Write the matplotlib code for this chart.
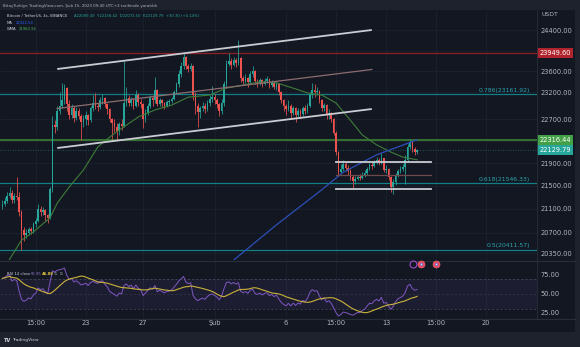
import numpy as np
import pandas as pd
import matplotlib
matplotlib.use('Agg')
import matplotlib.pyplot as plt
from matplotlib.transforms import blended_transform_factory
from matplotlib.patches import Rectangle
from matplotlib.ticker import NullLocator

W, H = 580, 347
BG = '#131722'
OUTER = '#1e222d'
UP = '#26a69a'
DOWN = '#ef5350'
TXT = '#b2b5be'

# BTC/USDT 4h candles (Binance), first bar Jan 17 07:00 UTC+3
first_open = 21150
closes = [
    21180, 21230, 21330, 21380, 21250,                 # Jan 17
    21320, 21300, 21050, 20750, 20650, 20690,          # Jan 18
    20760, 20720, 20850, 20900, 21100, 21050,          # Jan 19
    21080, 20990, 20940, 21450, 22600, 22550,          # Jan 20
    22850, 22950, 23050, 23280, 22980, 22780,          # Jan 21
    22900, 22720, 22850, 22760, 22650, 22700,          # Jan 22
    22780, 22680, 22900, 23000, 22950, 22920,          # Jan 23
    23050, 23100, 22980, 22880, 22700, 22620,          # Jan 24
    22560, 22480, 22610, 22580, 23000, 23100,          # Jan 25
    23000, 23080, 22950, 23150, 23020, 22980,          # Jan 26
    22700, 22820, 22950, 23100, 23050, 23250,          # Jan 27
    22980, 23060, 23000, 22950, 23010, 23030,          # Jan 28
    23080, 23200, 23350, 23550, 23700, 23880,          # Jan 29
    23700, 23640, 23700, 23150, 22950, 22830,          # Jan 30
    22900, 22950, 22880, 23000, 23080, 23120,          # Jan 31
    23050, 22980, 22850, 23000, 23350, 23750,          # Feb 1
    23800, 23720, 23820, 23760, 23850, 23480,          # Feb 2
    23420, 23480, 23400, 23550, 23600, 23420,          # Feb 3
    23380, 23440, 23360, 23420, 23450, 23340,          # Feb 4
    23380, 23300, 23350, 23200, 23050, 22950,          # Feb 5
    22880, 22950, 22820, 22900, 22780, 22850,          # Feb 6
    22800, 22900, 22860, 22950, 23150, 23250,          # Feb 7
    23200, 23220, 23050, 22900, 22960, 22780,          # Feb 8
    22820, 22700, 22450, 22100, 21750, 21800,          # Feb 9
    21880, 21820, 21760, 21650, 21590, 21620,          # Feb 10
    21660, 21640, 21700, 21720, 21800, 21870,          # Feb 11
    21850, 21920, 21960, 21900, 21990, 21780,          # Feb 12
    21800, 21650, 21480, 21560, 21680, 21760,          # Feb 13
    21800, 21840, 21950, 22200, 22280, 22150,          # Feb 14
    22099.49, 22129.79,                                # Feb 15
]
highs = [
    21260, 21300, 21400, 21480, 21420,
    21380, 21650, 21400, 21080, 20800, 20760,
    20800, 20800, 20880, 20950, 21190, 21150,
    21140, 21100, 21020, 21480, 22750, 22680,
    22950, 23200, 23370, 23350, 23300, 23050,
    22980, 22950, 22920, 22900, 22800, 22780,
    22850, 22800, 22950, 23150, 23180, 23000,
    23120, 23160, 23120, 23000, 22900, 22720,
    22700, 22620, 22650, 22700, 23800, 23300,
    23150, 23120, 23100, 23250, 23180, 23080,
    23000, 22880, 23000, 23150, 23150, 23500,
    23260, 23100, 23080, 23020, 23050, 23080,
    23120, 23250, 23400, 23620, 23780, 23960,
    23900, 23750, 23760, 23720, 23200, 23000,
    22950, 23020, 23000, 23060, 23150, 23320,
    23160, 23100, 23000, 23080, 23420, 23810,
    23950, 23850, 23880, 23860, 24200, 23880,
    23520, 23540, 23500, 23600, 23700, 23620,
    23450, 23480, 23460, 23480, 23520, 23470,
    23430, 23400, 23400, 23370, 23220, 23080,
    22990, 23050, 22980, 22950, 22920, 22900,
    22880, 22950, 22960, 23000, 23200, 23380,
    23350, 23300, 23250, 23080, 23000, 22980,
    22880, 22840, 22720, 22480, 22120, 21880,
    21950, 21920, 21860, 21800, 21700, 21680,
    21700, 21710, 21740, 21780, 21840, 21900,
    21920, 21960, 22010, 21990, 22090, 22000,
    21860, 21820, 21680, 21620, 21720, 21800,
    21850, 21880, 22050, 22250, 22330, 22300,
    22200, 22158.42,
]
lows = [
    21100, 21150, 21200, 21290, 21200,
    21210, 21250, 20980, 20410, 20560, 20600,
    20650, 20680, 20700, 20800, 20880, 20980,
    20990, 20900, 20860, 20930, 21400, 22450,
    22500, 22800, 22900, 22980, 22850, 22700,
    22720, 22650, 22680, 22700, 22320, 22550,
    22600, 22600, 22650, 22850, 22880, 22850,
    22880, 22980, 22920, 22800, 22650, 22330,
    22460, 22320, 22400, 22500, 22550, 22950,
    22950, 22950, 22880, 22920, 22950, 22900,
    22530, 22650, 22780, 22900, 22950, 23000,
    22940, 22950, 22920, 22880, 22920, 22970,
    23000, 23050, 23180, 23300, 23500, 23650,
    23650, 23580, 23600, 23050, 22800, 22550,
    22720, 22850, 22820, 22860, 22950, 23020,
    22980, 22900, 22760, 22800, 22950, 23300,
    23700, 23650, 23700, 23690, 23720, 23400,
    23360, 23380, 23300, 23380, 23500, 23350,
    23300, 23340, 23300, 23330, 23380, 23280,
    23300, 23260, 23250, 23150, 23000, 22850,
    22780, 22850, 22700, 22780, 22640, 22740,
    22720, 22760, 22800, 22820, 22920, 23100,
    23120, 23150, 23000, 22850, 22850, 22700,
    22700, 22650, 22400, 22050, 21690, 21720,
    21760, 21760, 21700, 21600, 21460, 21540,
    21600, 21600, 21620, 21660, 21700, 21780,
    21800, 21830, 21880, 21860, 21880, 21740,
    21720, 21600, 21400, 21351, 21520, 21650,
    21720, 21760, 21530, 21920, 22150, 22100,
    22050, 22072.50,
]

# WMA (green) and MA (blue) overlays, sampled along the bars
wma_bar = [2, 8, 13, 20, 23, 28, 34, 40, 45, 49, 57, 64, 71, 78, 87, 94, 101,
           108, 115, 122, 128, 134, 140, 146, 151, 157, 163, 168, 174]
wma_val = [20190, 20570, 20710, 20950, 21200, 21480, 21780, 22190, 22370, 22500,
           22740, 22870, 22960, 23110, 23150, 23280, 23340, 23400, 23380, 23280,
           23190, 23150, 23000, 22680, 22410, 22230, 22100, 22010, 21960.92]
ma_bar = [93, 115, 133, 143, 157, 174]
ma_val = [20110, 20830, 21400, 21740, 22050, 22322.54]

# RSI(14) state carried in from the bars before the window
rsi_seed_gain, rsi_seed_loss = 60.0, 26.0

# horizontal levels
red_level = 23949.60
green_level = 22316.44
fib_levels = [23161.92, 21546.33, 20411.57]
fib_names = ['0.786', '0.618', '0.5']

# parallel channel (bar index, price)
chan_x = [23, 155]
chan_top = [23645, 24408]
chan_mid = [22897, 23636]
chan_bot = [22173, 22888]
# consolidation box lines
box_x = [140, 180]
box_top, box_mid, box_bot = 21921, 21690, 21447

price_ticks = [24400, 23600, 23200, 22700, 21900, 21500, 21100, 20700, 20350]
grid_prices = [24400, 24000, 23600, 23200, 22700, 22300, 21900, 21500, 21100, 20700, 20350]
time_labels = ['15:00', '23', '27', 'Şub', '6', '15:00', '13', '15:00', '20']
time_stamps = ['2023-01-19 15:00', '2023-01-23 03:00', '2023-01-27 03:00',
               '2023-02-01 03:00', '2023-02-06 03:00', '2023-02-09 15:00',
               '2023-02-13 03:00', '2023-02-16 15:00', '2023-02-20 03:00']

t0 = pd.Timestamp('2023-01-17 07:00')
n = len(closes)
x = np.arange(n)
closes = np.array(closes, dtype=float)
opens = np.concatenate([[first_open], closes[:-1]])
tick_x = [(pd.Timestamp(s) - t0) / pd.Timedelta(hours=4) for s in time_stamps]

# RSI with Wilder smoothing, plus its 14-bar SMA
ag, al, prev = rsi_seed_gain, rsi_seed_loss, first_open
rsi = []
for c in closes:
    ch = c - prev
    ag = (ag * 13 + max(ch, 0)) / 14
    al = (al * 13 + max(-ch, 0)) / 14
    rsi.append(100 - 100 / (1 + ag / al))
    prev = c
rsi = np.array(rsi)
rsi_ma = pd.Series(rsi).rolling(14, min_periods=1).mean().values


def px_rect(x0, y0, x1, y1):
    return [x0 / W, 1 - y1 / H, (x1 - x0) / W, (y1 - y0) / H]


def ftext(px, py, s, **kw):
    fig.text(px / W, 1 - py / H, s, va='center', **kw)


fig = plt.figure(figsize=(W / 100, H / 100), dpi=100, facecolor=OUTER)
fig.patches.append(Rectangle((0, 1 - 332 / H), 575 / W, 322 / H, transform=fig.transFigure,
                             fc=BG, ec='none', zorder=-5))

ax = fig.add_axes(px_rect(0, 10, 537, 260))
ax_rsi = fig.add_axes(px_rect(0, 261, 537, 318))
XLIM = (-1.0, 224.3)
for a in (ax, ax_rsi):
    a.set_facecolor(BG)
    a.set_xlim(*XLIM)
    for s in a.spines.values():
        s.set_visible(False)
    a.set_xticks([])
    for tx in tick_x:
        a.axvline(tx, color='#1c2130', lw=0.6, zorder=0)

# ---- price pane ----
ax.set_yscale('log')
ax.set_ylim(20242, 24808)
ax.yaxis.set_minor_locator(NullLocator())
ax.yaxis.tick_right()
ax.set_yticks(price_ticks)
ax.set_yticklabels([f'{t:.2f}' for t in price_ticks])
ax.tick_params(axis='y', length=0, pad=2.5, labelsize=4.8, labelcolor=TXT)
for g in grid_prices:
    ax.axhline(g, color='#1c2130', lw=0.6, zorder=0)

ax.axhline(red_level, color='#8e1f24', lw=0.9, zorder=1)
ax.axhline(green_level, color='#3f8a35', lw=1.1, zorder=1)
ax.axhline(closes[-1], color=UP, lw=0.6, ls=(0, (1, 2)), alpha=0.6, zorder=1)
for lvl, name in zip(fib_levels, fib_names):
    ax.axhline(lvl, color='#127e86', lw=0.9, zorder=1)
    ax.text(0.987, lvl * 1.0012, f'{name}({lvl:.2f})', transform=blended_transform_factory(ax.transAxes, ax.transData),
            ha='right', va='bottom', fontsize=4.4, color='#2aa3ad')

up = closes >= opens
colors = np.where(up, UP, DOWN)
ax.vlines(x, lows, highs, colors=colors, lw=0.55, zorder=3)
ax.bar(x, closes - opens, bottom=opens, width=0.68, color=colors, lw=0, zorder=4)

ax.plot(wma_bar, wma_val, color='#3e7d3a', lw=0.8, zorder=5)
ax.plot(ma_bar, ma_val, color='#2c4fb8', lw=0.9, zorder=5)

ax.plot(chan_x, chan_top, color='#c9ccd3', lw=1.3, zorder=6, solid_capstyle='butt')
ax.plot(chan_x, chan_mid, color='#8c6d6f', lw=0.9, zorder=6)
ax.plot(chan_x, chan_bot, color='#c9ccd3', lw=1.3, zorder=6, solid_capstyle='butt')
ax.plot(box_x, [box_top] * 2, color='#c9ccd3', lw=1.3, zorder=6)
ax.plot(box_x, [box_bot] * 2, color='#c9ccd3', lw=1.3, zorder=6)
ax.plot(box_x, [box_mid] * 2, color='#6e4a4c', lw=0.9, zorder=6)

# price-scale badges
lbl_tr = blended_transform_factory(ax.transAxes, ax.transData)
for val, fc in [(red_level, '#b0252d'), (green_level, '#43a047'), (closes[-1], UP)]:
    ax.text(1.0045, val, f'{val:.2f}', transform=lbl_tr, ha='left', va='center', fontsize=4.8,
            color='white', bbox=dict(boxstyle='square,pad=0.3', fc=fc, ec='none'), clip_on=False, zorder=10)

# ---- RSI pane ----
ax_rsi.set_ylim(18.4, 93.4)
ax_rsi.yaxis.tick_right()
ax_rsi.set_yticks([75, 50, 25])
ax_rsi.set_yticklabels(['75.00', '50.00', '25.00'])
ax_rsi.tick_params(axis='y', length=0, pad=2.5, labelsize=4.8, labelcolor=TXT)
ax_rsi.axhspan(30, 70, color='#7e57c2', alpha=0.1, lw=0)
for lv, al_ in [(70, 0.55), (30, 0.55), (50, 0.3)]:
    ax_rsi.axhline(lv, color='#787b86', lw=0.5, ls=(0, (3, 3)), alpha=al_)
ax_rsi.plot(x, rsi, color='#7e57c2', lw=0.7)
ax_rsi.plot(x, rsi_ma, color='#c9b23a', lw=0.8)

for tx, lab in zip(tick_x, time_labels):
    ax_rsi.text(tx, -0.09, lab, transform=blended_transform_factory(ax_rsi.transData, ax_rsi.transAxes),
                ha='center', va='center', fontsize=4.8, color=TXT, clip_on=False)

# pane separators
fig.add_artist(plt.Line2D([0, 575 / W], [1 - 260.5 / H] * 2, color='#2a2e39', lw=0.8))
fig.add_artist(plt.Line2D([0, 575 / W], [1 - 318.5 / H] * 2, color='#2a2e39', lw=0.8))
fig.add_artist(plt.Line2D([537 / W] * 2, [1 - 318.5 / H, 1 - 10 / H], color='#2a2e39', lw=0.6))

# event markers
fig.add_artist(plt.Line2D([413 / W], [1 - 264 / H], marker='o', ms=5, mfc='none', mec='#9c4dcc', mew=0.8))
for ex in (421, 436):
    fig.add_artist(plt.Line2D([ex / W], [1 - 264 / H], marker='o', ms=5, mfc='#e84a5f', mec='#f06070', mew=0.5))
    fig.add_artist(plt.Line2D([ex / W], [1 - 264 / H], marker='s', ms=2, mfc='#dfe6ff', mec='#3a6ee8', mew=0.4))

# header and legends
ftext(3, 5.5, 'BitayTurkiye TradingView.com, Şub 15, 2023 09:40 UTC+3 tarihinde yaratıldı',
      fontsize=2.9, color=TXT)
ftext(541, 15, 'USDT', fontsize=4.4, color=TXT)
ftext(7, 16, 'Bitcoin / TetherUS, 4s, BINANCE', fontsize=2.7, color='#d1d4dc')
ftext(74, 16, f'A{opens[-1]:.2f}  Y{highs[-1]:.2f}  D{lows[-1]:.2f}  K{closes[-1]:.2f}  '
              f'+{closes[-1] - opens[-1]:.2f} (+{(closes[-1] - opens[-1]) / opens[-1] * 100:.2f}%)',
      fontsize=2.7, color=UP)
ftext(7, 22.5, 'MA', fontsize=2.7, color='#d1d4dc')
ftext(16, 22.5, f'{ma_val[-1]:.2f}', fontsize=2.7, color='#2962ff')
ftext(7, 29, 'WMA', fontsize=2.7, color='#d1d4dc')
ftext(19, 29, f'{wma_val[-1]:.2f}', fontsize=2.7, color='#4caf50')
ftext(7, 274, 'RSI 14 close', fontsize=2.7, color='#d1d4dc')
ftext(31, 274, f'{rsi[-1]:.2f}', fontsize=2.7, color='#9575cd')
ftext(42, 274, f'{rsi_ma[-1]:.2f}', fontsize=2.7, color='#e0c840', fontweight='bold')
ftext(54, 274, '∅  ∅', fontsize=2.7, color=TXT)
ftext(4, 340, 'TV', fontsize=3.6, color='#d1d4dc', fontweight='bold')
ftext(12, 340, 'TradingView', fontsize=3.2, color='#d1d4dc')

fig.savefig('out.png', dpi=100, facecolor=OUTER)
